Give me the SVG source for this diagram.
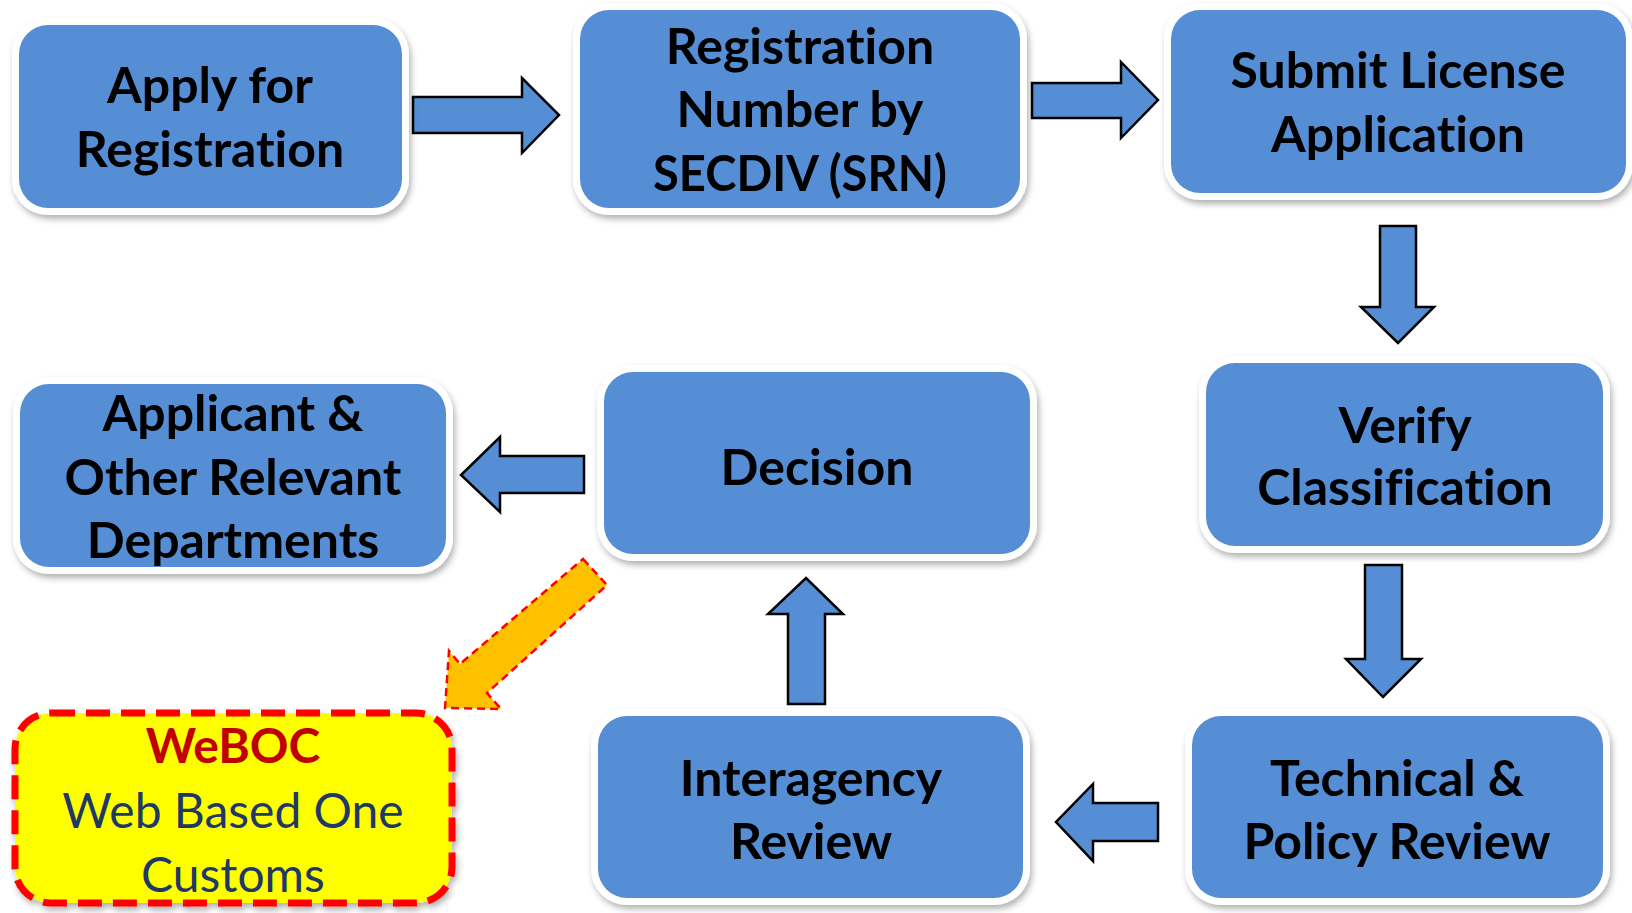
<svg xmlns="http://www.w3.org/2000/svg" width="1632" height="913" viewBox="0 0 1632 913">
<defs>
<filter id="sh" x="-10%" y="-10%" width="120%" height="130%">
<feDropShadow dx="2" dy="4" stdDeviation="3" flood-color="#000" flood-opacity="0.3"/>
</filter>
</defs>
<style>
.bg{fill:#FFFFFF;filter:url(#sh)}
.box{fill:#558ED5}
.weboc{fill:#FFFF00;stroke:#FF0000;stroke-width:7;stroke-dasharray:24 11;filter:url(#sh)}
.arr{fill:#558ED5;stroke:#000;stroke-width:2.5;stroke-linejoin:miter}
text{font-variant-ligatures:none;font-feature-settings:"liga" 0,"dlig" 0}
.t{font-family:Lato,"Liberation Sans",sans-serif;font-weight:bold;font-size:50px;fill:#000;text-anchor:middle}
.tr{font-family:Lato,"Liberation Sans",sans-serif;font-weight:bold;font-size:48px;fill:#C00000;text-anchor:middle}
.tn{font-family:Lato,"Liberation Sans",sans-serif;font-size:48px;fill:#1F3864;text-anchor:middle}
</style>
<rect width="1632" height="913" fill="#FFFFFF"/>
<g id="connectors">
<polygon class="arr" points="413,97 522,97 522,78 559,115 522,153 522,133 413,133"/>
<polygon class="arr" points="1032,83 1121,83 1121,62 1158,100 1121,138 1121,118 1032,118"/>
<polygon class="arr" points="1380,226 1416,226 1416,307 1434,307 1398,343 1361,307 1380,307"/>
<polygon class="arr" points="1365,565 1402,565 1402,659 1421,659 1383,697 1346,659 1365,659"/>
<polygon class="arr" points="1158,803 1093,803 1093,784 1056,822 1093,861 1093,841 1158,841"/>
<polygon class="arr" points="788,704 788,614 768,614 806,578 843,614 825,614 825,704"/>
<polygon class="arr" points="584,456 500,456 500,437 461,475 500,512 500,493 584,493"/>
<polygon points="583,559 607,585 487,693 501,709 445,708 449,651 460,664" fill="#FFC000" stroke="#FF0000" stroke-width="2.5" stroke-dasharray="8 5"/>
</g>
<g id="apply">
<rect class="bg" x="12" y="18" width="397" height="197" rx="36"/>
<rect class="box" x="19" y="25" width="383" height="183" rx="29"/>
<text class="t" x="210" y="103">Apply for</text>
<text class="t" x="210" y="167">Registration</text>
</g>
<g id="regnum">
<rect class="bg" x="573" y="3" width="454" height="212" rx="36"/>
<rect class="box" x="580" y="10" width="440" height="198" rx="29"/>
<text class="t" x="800" y="64">Registration</text>
<text class="t" x="800" y="127">Number by</text>
<text class="t" x="800" y="191" textLength="294" lengthAdjust="spacingAndGlyphs">SECDIV (SRN)</text>
</g>
<g id="submit">
<rect class="bg" x="1164" y="3" width="469" height="197" rx="36"/>
<rect class="box" x="1171" y="10" width="455" height="183" rx="29"/>
<text class="t" x="1398" y="88">Submit License</text>
<text class="t" x="1398" y="152">Application</text>
</g>
<g id="verify">
<rect class="bg" x="1199" y="356" width="411" height="197" rx="36"/>
<rect class="box" x="1206" y="363" width="397" height="183" rx="29"/>
<text class="t" x="1405" y="443">Verify</text>
<text class="t" x="1405" y="505">Classification</text>
</g>
<g id="technical">
<rect class="bg" x="1185" y="709" width="425" height="196" rx="36"/>
<rect class="box" x="1192" y="716" width="411" height="182" rx="29"/>
<text class="t" x="1397" y="796">Technical &amp;</text>
<text class="t" x="1397" y="859">Policy Review</text>
</g>
<g id="interagency">
<rect class="bg" x="591" y="709" width="439" height="196" rx="36"/>
<rect class="box" x="598" y="716" width="425" height="182" rx="29"/>
<text class="t" x="811" y="796">Interagency</text>
<text class="t" x="811" y="859">Review</text>
</g>
<g id="decision">
<rect class="bg" x="597" y="365" width="440" height="196" rx="36"/>
<rect class="box" x="604" y="372" width="426" height="182" rx="29"/>
<text class="t" x="817" y="485">Decision</text>
</g>
<g id="applicant">
<rect class="bg" x="13" y="377" width="440" height="197" rx="36"/>
<rect class="box" x="20" y="384" width="426" height="183" rx="29"/>
<text class="t" x="233" y="431">Applicant &amp;</text>
<text class="t" x="233" y="495">Other Relevant</text>
<text class="t" x="233" y="558">Departments</text>
</g>
<g id="weboc">
<rect class="weboc" x="15" y="713" width="437" height="190" rx="36"/>
<text class="tr" x="233" y="763">WeBOC</text>
<text class="tn" x="233" y="828">Web Based One</text>
<text class="tn" x="233" y="892">Customs</text>
</g>
</svg>
